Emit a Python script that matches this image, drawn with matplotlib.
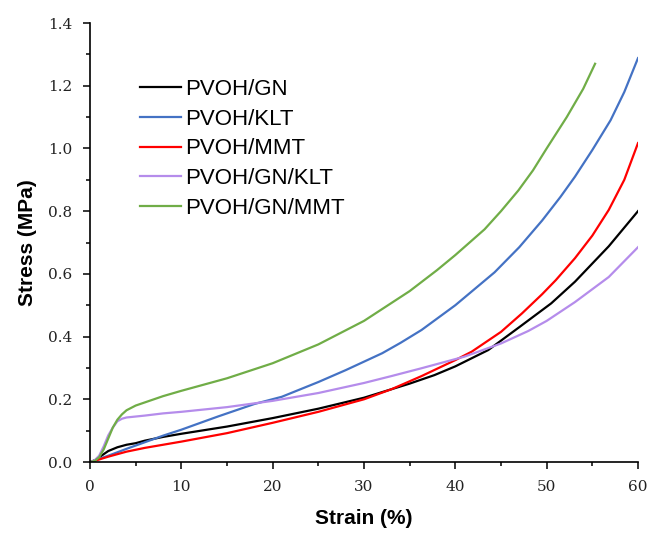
import matplotlib
matplotlib.use("Agg")
import matplotlib.pyplot as plt
from matplotlib.ticker import MultipleLocator

# PVOH/GN (black)
gn_x = [0, 0.5, 1, 2, 3, 4, 5, 6, 8, 10, 15, 20, 25, 30, 33, 35, 37.7, 40, 43.6, 47, 50.5, 53.1, 56.8, 60]
gn_y = [0, 0.005, 0.015, 0.035, 0.047, 0.055, 0.06, 0.068, 0.08, 0.09, 0.113, 0.14, 0.17, 0.205, 0.232, 0.25, 0.277, 0.305, 0.357, 0.43, 0.506, 0.575, 0.688, 0.8]

# PVOH/KLT (blue)
klt_x = [0, 1, 2, 4, 6, 8, 10, 14, 18, 21, 25, 28, 30, 32, 34, 36.3, 40, 44.3, 47, 49.5, 51.5, 53.1, 55, 57, 58.5, 60]
klt_y = [0, 0.01, 0.02, 0.042, 0.063, 0.084, 0.103, 0.145, 0.185, 0.208, 0.255, 0.293, 0.32, 0.347, 0.38, 0.421, 0.5, 0.605, 0.685, 0.77, 0.845, 0.91, 0.995, 1.09, 1.18, 1.288]

# PVOH/MMT (red)
mmt_x = [0, 1, 2, 4, 6, 8, 10, 15, 20, 25, 30, 33, 36.3, 40, 41.8, 45, 47.3, 49.5, 51, 53.1, 55, 56.8, 58.5, 60]
mmt_y = [0, 0.008, 0.017, 0.033, 0.045, 0.055, 0.065, 0.092, 0.125, 0.16, 0.2, 0.232, 0.274, 0.325, 0.352, 0.415, 0.474, 0.535, 0.58, 0.65, 0.722, 0.804, 0.9, 1.017]

# PVOH/GN/KLT (purple)
gnklt_x = [0, 0.5, 1, 1.5, 2, 2.5, 3, 3.5, 4, 5, 6, 8, 10, 15, 20, 25, 30, 33, 36.3, 41, 45, 48, 50, 53.1, 56.8, 60]
gnklt_y = [0, 0.005, 0.02, 0.05, 0.085, 0.11, 0.13, 0.138, 0.142, 0.145, 0.148, 0.155, 0.16, 0.175, 0.195, 0.22, 0.252, 0.274, 0.299, 0.336, 0.378, 0.418, 0.45, 0.51, 0.59, 0.685]

# PVOH/GN/MMT (green)
gnmmt_x = [0, 0.5, 1, 1.5, 2, 2.5, 3, 3.5, 4, 5, 6, 8, 10, 12, 15, 20, 25, 30, 35, 38, 40, 43.2, 45, 46.9, 48.5, 50, 52.2, 54, 55.3]
gnmmt_y = [0, 0.003, 0.015, 0.04, 0.075, 0.11, 0.135, 0.152, 0.165, 0.18, 0.19, 0.21, 0.227, 0.243, 0.267, 0.315, 0.375, 0.45, 0.545, 0.612, 0.66, 0.742, 0.8, 0.866, 0.93, 1.0, 1.1, 1.19, 1.27]

series = [
    ("PVOH/GN", gn_x, gn_y, "#000000"),
    ("PVOH/KLT", klt_x, klt_y, "#4472C4"),
    ("PVOH/MMT", mmt_x, mmt_y, "#FF0000"),
    ("PVOH/GN/KLT", gnklt_x, gnklt_y, "#B58CEB"),
    ("PVOH/GN/MMT", gnmmt_x, gnmmt_y, "#70AD47"),
]

x_ticks = [0, 10, 20, 30, 40, 50, 60]
y_ticks = [0.0, 0.2, 0.4, 0.6, 0.8, 1.0, 1.2, 1.4]

fig = plt.figure(figsize=(6.49, 5.33), dpi=100)
ax = fig.add_axes([90/649, 71/533, 548/649, 439/533])

for name, xs, ys, c in series:
    ax.plot(xs, ys, color=c, lw=1.6, label=name, solid_joinstyle="round")

ax.set_xlim(0, 60)
ax.set_ylim(0, 1.4)
ax.set_xticks(x_ticks)
ax.set_yticks(y_ticks)
ax.set_xticklabels([str(v) for v in x_ticks])
ax.set_yticklabels([f"{v:.1f}" for v in y_ticks])
ax.xaxis.set_minor_locator(MultipleLocator(5))
ax.yaxis.set_minor_locator(MultipleLocator(0.1))
for s in ["top", "right"]:
    ax.spines[s].set_visible(False)
for s in ["left", "bottom"]:
    ax.spines[s].set_linewidth(1.2)
ax.tick_params(which="major", direction="out", length=5, width=1.1, pad=8,
               labelsize=11, labelfontfamily="DejaVu Serif", colors="#000000")
ax.tick_params(which="minor", direction="out", length=3, width=1.1)
for lab in ax.get_xticklabels() + ax.get_yticklabels():
    lab.set_color("#222222")

ax.set_xlabel("Strain (%)", fontsize=15, fontweight="bold", family="Liberation Sans", labelpad=11)
ax.set_ylabel("Stress (MPa)", fontsize=15, fontweight="bold", family="Liberation Sans", labelpad=8)

leg = ax.legend(loc="upper left", bbox_to_anchor=(50/548, (462-79)/439), frameon=False,
                prop={"family": "Liberation Sans", "size": 16}, handlelength=1.85,
                handletextpad=0.2, labelspacing=0.39, borderpad=0, borderaxespad=0)

fig.savefig("out.png", dpi=100)
